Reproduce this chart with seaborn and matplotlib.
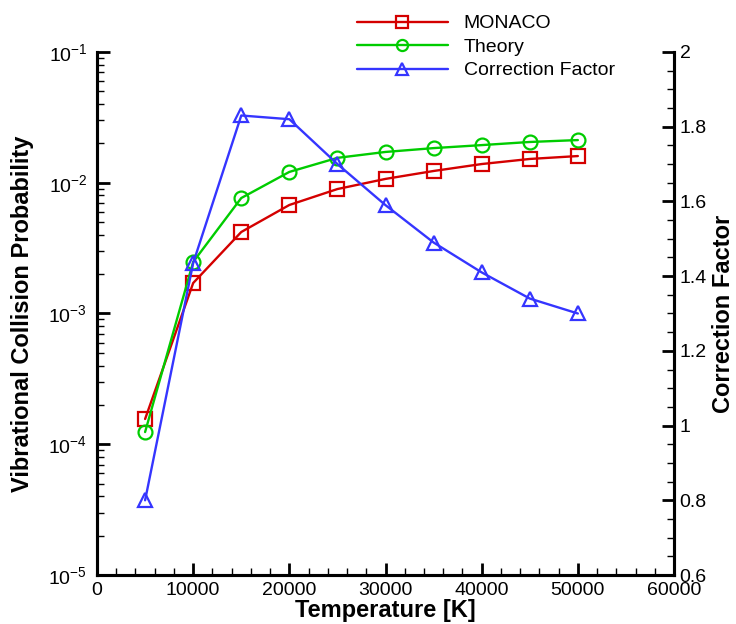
import matplotlib
matplotlib.use("Agg")
import matplotlib.pyplot as plt
import matplotlib.ticker as mticker
import pandas as pd
import seaborn as sns

# values
temperature = [5000, 10000, 15000, 20000, 25000, 30000, 35000, 40000, 45000, 50000]
monaco = [1.56e-4, 1.71e-3, 4.2e-3, 6.76e-3, 8.95e-3, 1.07e-2, 1.23e-2, 1.39e-2, 1.52e-2, 1.60e-2]
theory = [1.24e-4, 2.48e-3, 7.64e-3, 1.21e-2, 1.55e-2, 1.72e-2, 1.84e-2, 1.94e-2, 2.05e-2, 2.12e-2]
correction = [0.80, 1.435, 1.83, 1.82, 1.70, 1.59, 1.49, 1.41, 1.34, 1.30]

df = pd.DataFrame({"T": temperature, "MONACO": monaco, "Theory": theory,
                   "Correction Factor": correction})

sns.set_theme(style="ticks", rc={"text.color": "black", "axes.labelcolor": "black",
                                 "xtick.color": "black", "ytick.color": "black",
                                 "axes.edgecolor": "black"})
plt.rcParams["font.family"] = ["Liberation Sans", "DejaVu Sans"]
plt.rcParams["mathtext.fontset"] = "custom"
plt.rcParams["mathtext.rm"] = "Liberation Sans"

fig = plt.figure(figsize=(7.36, 6.24), dpi=100)
ax = fig.add_axes([0.1318, 0.0785, 0.7840, 0.8382])
ax2 = ax.twinx()

red, green, blue = "#d40000", "#00cc00", "#3535ff"
style = dict(linewidth=1.7, markersize=10, markerfacecolor="none", markeredgewidth=1.6)

sns.lineplot(data=df, x="T", y="MONACO", ax=ax, color=red, marker="s",
             markeredgecolor=red, label="MONACO", legend=False, **style)
sns.lineplot(data=df, x="T", y="Theory", ax=ax, color=green, marker="o",
             markeredgecolor=green, label="Theory", legend=False, **style)
sns.lineplot(data=df, x="T", y="Correction Factor", ax=ax2, color=blue, marker="^",
             markeredgecolor=blue, label="Correction Factor", legend=False, **style)

ax.set_yscale("log")
ax.set_ylim(1e-5, 1e-1)
ax.set_xlim(0, 60000)
ax2.set_ylim(0.6, 2.0)

ax.xaxis.set_major_locator(mticker.MultipleLocator(10000))
ax.xaxis.set_minor_locator(mticker.MultipleLocator(2000))
ax.yaxis.set_major_locator(mticker.LogLocator(base=10, numticks=10))
ax.yaxis.set_minor_locator(mticker.LogLocator(base=10, subs=range(2, 10), numticks=20))
ax.yaxis.set_minor_formatter(mticker.NullFormatter())
ax2.yaxis.set_major_locator(mticker.MultipleLocator(0.2))
ax2.yaxis.set_minor_locator(mticker.MultipleLocator(0.05))
ax2.yaxis.set_major_formatter(mticker.FuncFormatter(lambda v, p: f"{v:g}"))

for a in (ax, ax2):
    a.spines["top"].set_visible(False)
    for s in a.spines.values():
        s.set_linewidth(2.2)
    a.tick_params(which="major", direction="in", length=9, width=2, labelsize=14)
    a.tick_params(which="minor", direction="in", length=5, width=1)
ax.tick_params(axis="y", which="both", right=False, pad=7)
ax.tick_params(axis="x", which="both", top=False, pad=5)
ax2.tick_params(axis="y", pad=4)
ax2.tick_params(axis="x", which="both", top=False, bottom=False)

ax.set_xlabel("Temperature [K]", fontsize=17, fontweight="bold", labelpad=0)
ax.set_ylabel("Vibrational Collision Probability", fontsize=17, fontweight="bold", labelpad=10)
ax2.set_ylabel("Correction Factor", fontsize=17, fontweight="bold", labelpad=4)

h1, l1 = ax.get_legend_handles_labels()
h2, l2 = ax2.get_legend_handles_labels()
leg = fig.legend(h1 + h2, l1 + l2, loc="upper left", bbox_to_anchor=(0.466, 0.998),
                 frameon=False, fontsize=14, handlelength=4.7, handletextpad=0.8,
                 labelspacing=0.3, markerscale=0.8, borderaxespad=0.3)

fig.savefig("out.png", dpi=100)
